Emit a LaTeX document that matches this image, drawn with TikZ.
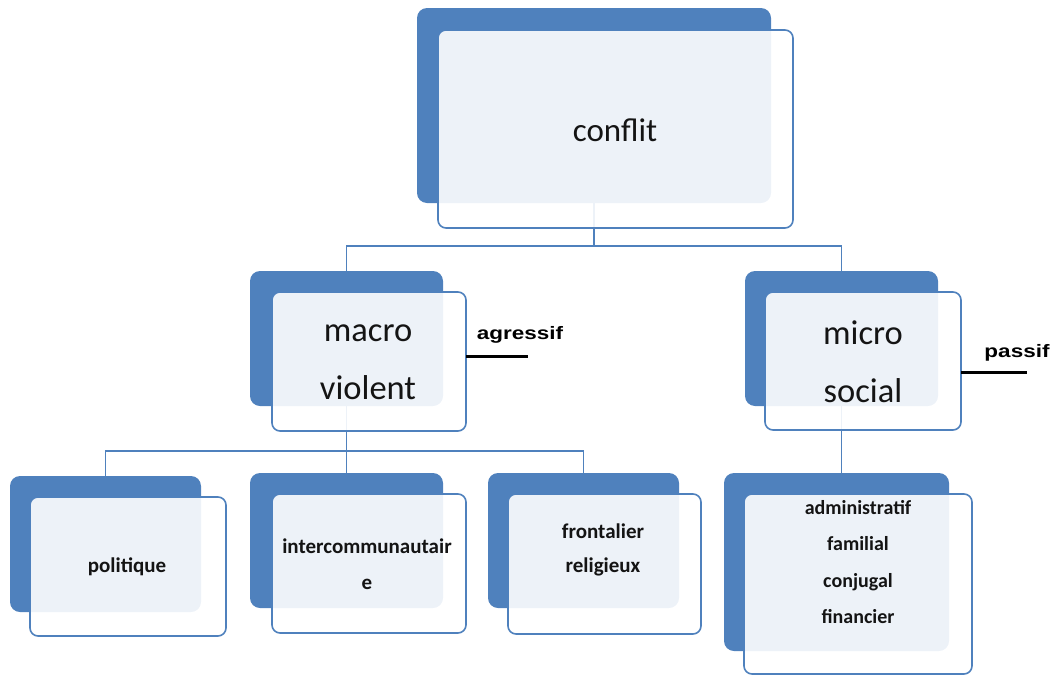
\documentclass[tikz,border=0pt]{standalone}
\usepackage{fontspec}
\setmainfont{Carlito}
\newfontfamily\armfont[FakeStretch=1.25]{Liberation Sans}
\definecolor{accblue}{HTML}{4F81BD}
\definecolor{txtgray}{HTML}{141414}
\begin{document}
\begin{tikzpicture}[x=1pt,y=-1pt,
  backbox/.style={rectangle, rounded corners=10pt, fill=accblue, draw=none, inner sep=0pt, outer sep=0pt},
  frontbox/.style={rectangle, rounded corners=8pt, fill=white, fill opacity=0.9, draw=accblue, line width=1.6pt, draw opacity=1, inner sep=0pt, outer sep=0pt, text opacity=1},
  bigtxt/.style={font=\fontsize{33}{58}\selectfont, text=txtgray, align=center},
  midtxt/.style={font=\fontsize{34.5}{58}\selectfont, text=txtgray, align=center},
  smalltxt/.style={font=\fontsize{21}{36}\selectfont\bfseries, text=txtgray, align=center},
  sidetxt/.style={font=\armfont\fontsize{18}{20}\selectfont\bfseries, text=black},
  link/.style={draw=accblue, line width=1.4pt},
  sideline/.style={draw=black, line width=3pt}
]
\useasboundingbox (0,0) rectangle (1053,675);

% back boxes
\node[backbox, minimum width=354pt, minimum height=195pt] (cb) at (594,105.5) {};
\node[backbox, minimum width=193pt, minimum height=135pt] (mab) at (346.5,338.5) {};
\node[backbox, minimum width=193pt, minimum height=135pt] (mib) at (841.5,338.5) {};
\node[backbox, minimum width=191pt, minimum height=136pt] (pb) at (105.5,544) {};
\node[backbox, minimum width=193pt, minimum height=135pt] (ib) at (346.5,540.5) {};
\node[backbox, minimum width=191pt, minimum height=135pt] (fb) at (583.5,540.5) {};
\node[backbox, minimum width=225pt, minimum height=178pt] (ab) at (836.5,562) {};

% connectors
\coordinate (cj) at (594,246);
\coordinate (mj) at (346.5,451);
\draw[link] (cb.south) -- (cj);
\draw[link] (cj) -| (mab.north);
\draw[link] (cj) -| (mib.north);
\draw[link] (mab.south) -- (mj);
\draw[link] (mj) -| (pb.north);
\draw[link] (mj) -- (ib.north);
\draw[link] (mj) -| (fb.north);
\draw[link] (mib.south) -- (mib.south |- ab.north);

% front boxes
\node[frontbox, minimum width=355pt, minimum height=198pt] (cf) at (615.5,129) {};
\node[frontbox, minimum width=194pt, minimum height=139pt] (maf) at (369,361.5) {};
\node[frontbox, minimum width=196pt, minimum height=138pt] (mif) at (863,361) {};
\node[frontbox, minimum width=196pt, minimum height=139pt] (pf) at (128,566.5) {};
\node[frontbox, minimum width=194pt, minimum height=139pt] (if) at (369,563.5) {};
\node[frontbox, minimum width=193pt, minimum height=140pt] (ff) at (604.5,564) {};
\node[frontbox, minimum width=228pt, minimum height=180pt] (af) at (858,584) {};

% texts
\node[bigtxt] (ct) at (615,130) {conflit};
\node[midtxt] (mat) at (368,362) {macro\\violent};
\node[midtxt] (mit) at (863,362) {micro\\social};
\node[smalltxt] (pt) at (127,567) {politique};
\node[smalltxt] (it) at (367,564) {intercommunautair\\e};
\node[smalltxt, font=\fontsize{21}{34}\selectfont\bfseries] (ft) at (603,550) {frontalier\\religieux};
\node[smalltxt, font=\fontsize{20}{36.3}\selectfont\bfseries] (at) at (858,562) {administratif\\familial\\conjugal\\financier};

% side labels
\coordinate (ag) at (528,356);
\coordinate (pa) at (1027,372);
\draw[sideline] (maf.east |- ag) -- (ag);
\draw[sideline] (mif.east |- pa) -- (pa);
\node[sidetxt] (agt) at (520,335) {agressif};
\node[sidetxt] (pat) at (1017,353) {passif};
\end{tikzpicture}
\end{document}
